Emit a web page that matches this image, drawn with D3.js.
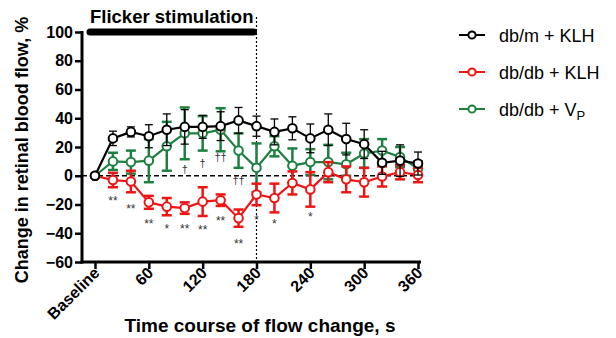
<!DOCTYPE html>
<meta charset="utf-8">
<style>
body { margin: 0; background: #fff; }
text { font-family: 'Liberation Sans', Arial, sans-serif; fill: #000; }
.bold { font-weight: bold; }
</style>
<body>
<svg width="616" height="338"></svg>
<script src="https://d3js.org/d3.v7.min.js"></script>
<script>

// time points (s), 0 = baseline
var times = [0, 20, 40, 60, 80, 100, 120, 140, 160, 180, 200, 220, 240, 260, 280, 300, 320, 340, 360];

var dbmMean = [0, 26, 30.5, 27.5, 32, 34, 34, 34.5, 38.5, 34.5, 30.5, 33, 26, 32, 25.5, 22, 9, 10.5, 8.5];
var dbmSem  = [0, 5, 3.5, 8, 11, 12, 8, 10, 9, 7, 9, 8, 10, 11, 11, 10, 8, 11, 8];

var dbKlhMean = [0, -3, -4, -18.5, -21.5, -22.5, -18, -17, -29.5, -13, -15.5, -5, -9.5, 2.5, -2.5, -4.5, -0.5, 2.5, 0.5];
var dbKlhSem  = [0, 5, 7.5, 4.5, 6, 4, 10, 4, 6, 7.5, 10, 8, 12, 7, 9, 10, 7, 5, 5];

var dbVpMean = [0, 10, 9.5, 10.5, 20.5, 29.5, 29.5, 32, 17.5, 5.5, 20.5, 7, 9.5, 9.5, 8, 15.5, 17.5, 13, 5];
var dbVpSem  = [0, 6, 8, 15, 17, 18, 12, 15, 12, 17, 7, 12, 9, 12, 8, 10, 8, 7, 5];

var xTicks = [0, 60, 120, 180, 240, 300, 360];
var xTickLabels = ["Baseline", "60", "120", "180", "240", "300", "360"];
var yTicks = [-60, -40, -20, 0, 20, 40, 60, 80, 100];

// significance marks (time, label, value where drawn)
var starTimes  = [20, 40, 60, 80, 100, 120, 140, 160, 180, 200, 240];
var starLabels = ["**", "**", "**", "*", "**", "**", "**", "**", "*", "*", "*"];
var starValues = [-15.5, -21.7, -32, -35.6, -35, -36.3, -29.4, -46, -28.7, -32, -27.3];

var daggerTimes  = [100, 120, 140, 160];
var daggerLabels = ["\u2020", "\u2020", "\u2020\u2020", "\u2020\u2020"];
var daggerValues = [4.7, 8.9, 13, -3];

var flickerEnd = 180;

var svg = d3.select("svg");

var x = d3.scaleLinear().domain([0, 360]).range([95, 418]);
var y = d3.scaleLinear().domain([-60, 100]).range([262, 32]);
var axisX = 82;

// axes
var yAxis = svg.append("g")
    .attr("transform", "translate(" + axisX + ",0)")
    .call(d3.axisLeft(y).tickValues(yTicks).tickSize(7).tickPadding(2));
yAxis.select(".domain").remove();
yAxis.selectAll(".tick line").attr("stroke", "#000").attr("stroke-width", 2.5);
yAxis.selectAll(".tick text").attr("class", "bold").style("font-size", "16px")
    .style("font-family", "'Liberation Sans', Arial, sans-serif");

var xAxis = svg.append("g")
    .attr("transform", "translate(0," + y(-60) + ")")
    .call(d3.axisBottom(x).tickValues(xTicks).tickSize(7).tickFormat(function(d, i) { return xTickLabels[i]; }));
xAxis.select(".domain").remove();
xAxis.selectAll(".tick line").attr("stroke", "#000").attr("stroke-width", 2.5);
xAxis.selectAll(".tick text")
    .attr("class", "bold")
    .style("font-size", "16px")
    .style("font-family", "'Liberation Sans', Arial, sans-serif")
    .attr("text-anchor", "end")
    .attr("x", 0).attr("y", 0).attr("dy", 0)
    .attr("transform", "translate(5,12) rotate(-45)");

svg.append("line")
    .attr("x1", axisX).attr("x2", axisX)
    .attr("y1", y(100) - 1).attr("y2", y(-60) + 1.5)
    .attr("stroke", "#000").attr("stroke-width", 3);
svg.append("line")
    .attr("x1", axisX - 1.5).attr("x2", x(360) + 3)
    .attr("y1", y(-60)).attr("y2", y(-60))
    .attr("stroke", "#000").attr("stroke-width", 3);

// zero line and stimulation end
svg.append("line")
    .attr("x1", axisX).attr("x2", x(360) + 3)
    .attr("y1", y(0)).attr("y2", y(0))
    .attr("stroke", "#000").attr("stroke-width", 1.6)
    .attr("stroke-dasharray", "5,3");
svg.append("line")
    .attr("x1", x(flickerEnd)).attr("x2", x(flickerEnd))
    .attr("y1", 17).attr("y2", y(-60))
    .attr("stroke", "#000").attr("stroke-width", 1.2)
    .attr("stroke-dasharray", "2,2");

// flicker bar
svg.append("line")
    .attr("x1", 90).attr("x2", x(flickerEnd) - 3)
    .attr("y1", y(100)).attr("y2", y(100))
    .attr("stroke", "#000").attr("stroke-width", 7)
    .attr("stroke-linecap", "round");
svg.append("text")
    .attr("class", "bold")
    .attr("x", 90).attr("y", 23)
    .style("font-size", "18.5px")
    .text("Flicker stimulation");

var series = [
  { mean: dbVpMean, sem: dbVpSem, color: "#1d8040", barW: 2.5, cap: 5 },
  { mean: dbKlhMean, sem: dbKlhSem, color: "#f01414", barW: 2.5, cap: 5 },
  { mean: dbmMean, sem: dbmSem, color: "#000", barW: 1.3, cap: 4 }
];

var line = d3.line().x(function(d) { return x(d.t); }).y(function(d) { return y(d.m); });

series.forEach(function(s) {
  var pts = times.map(function(t, i) { return { t: t, m: s.mean[i], e: s.sem[i] }; });
  var g = svg.append("g");

  var bars = g.selectAll(".err").data(pts.filter(function(d) { return d.e > 0; })).enter().append("g");
  bars.append("line")
      .attr("x1", function(d) { return x(d.t); }).attr("x2", function(d) { return x(d.t); })
      .attr("y1", function(d) { return y(d.m - d.e); }).attr("y2", function(d) { return y(d.m + d.e); })
      .attr("stroke", s.color).attr("stroke-width", s.barW);
  [-1, 1].forEach(function(sign) {
    bars.append("line")
        .attr("x1", function(d) { return x(d.t) - s.cap; }).attr("x2", function(d) { return x(d.t) + s.cap; })
        .attr("y1", function(d) { return y(d.m + sign * d.e); }).attr("y2", function(d) { return y(d.m + sign * d.e); })
        .attr("stroke", s.color).attr("stroke-width", s.barW);
  });

  g.append("path").datum(pts)
      .attr("d", line)
      .attr("fill", "none").attr("stroke", s.color).attr("stroke-width", 2.2);

  g.selectAll("circle").data(pts).enter().append("circle")
      .attr("cx", function(d) { return x(d.t); })
      .attr("cy", function(d) { return y(d.m); })
      .attr("r", 4.3)
      .attr("fill", "#fff").attr("stroke", s.color).attr("stroke-width", 2);
});

// significance marks
svg.selectAll(".star").data(starTimes).enter().append("text")
    .attr("x", function(d) { return x(d); })
    .attr("y", function(d, i) { return y(starValues[i]) + 6.5; })
    .attr("text-anchor", "middle")
    .style("font-size", "12px")
    .style("fill", "#333")
    .text(function(d, i) { return starLabels[i]; });

svg.selectAll(".dagger").data(daggerTimes).enter().append("text")
    .attr("x", function(d) { return x(d); })
    .attr("y", function(d, i) { return y(daggerValues[i]) + 4; })
    .attr("text-anchor", "middle")
    .style("font-size", "11px")
    .style("fill", "#333")
    .text(function(d, i) { return daggerLabels[i]; });

// axis titles
svg.append("text")
    .attr("class", "bold")
    .attr("transform", "translate(28,150) rotate(-90)")
    .attr("text-anchor", "middle")
    .style("font-size", "18px")
    .text("Change in retinal blood flow, %");

svg.append("text")
    .attr("class", "bold")
    .attr("x", 260).attr("y", 332)
    .attr("text-anchor", "middle")
    .style("font-size", "19px")
    .text("Time course of flow change, s");

// legend
var legendColors = ["#000", "#f01414", "#1d8040"];
var legendY = [35, 72, 109];
var legend = svg.selectAll(".leg").data(legendColors).enter().append("g")
    .attr("transform", function(d, i) { return "translate(459," + legendY[i] + ")"; });
legend.append("line").attr("x1", 0).attr("x2", 26)
    .attr("stroke", function(d) { return d; }).attr("stroke-width", 2);
legend.append("circle").attr("cx", 13).attr("r", 3.6)
    .attr("fill", "#fff").attr("stroke", function(d) { return d; }).attr("stroke-width", 2);

var lt = legend.append("text").attr("x", 40).attr("y", 6.5).style("font-size", "18px");
lt.filter(function(d, i) { return i === 0; }).text("db/m + KLH");
lt.filter(function(d, i) { return i === 1; }).text("db/db + KLH");
var vp = lt.filter(function(d, i) { return i === 2; });
vp.append("tspan").text("db/db + V");
vp.append("tspan").attr("dy", 4).style("font-size", "13px").text("P");

</script>
